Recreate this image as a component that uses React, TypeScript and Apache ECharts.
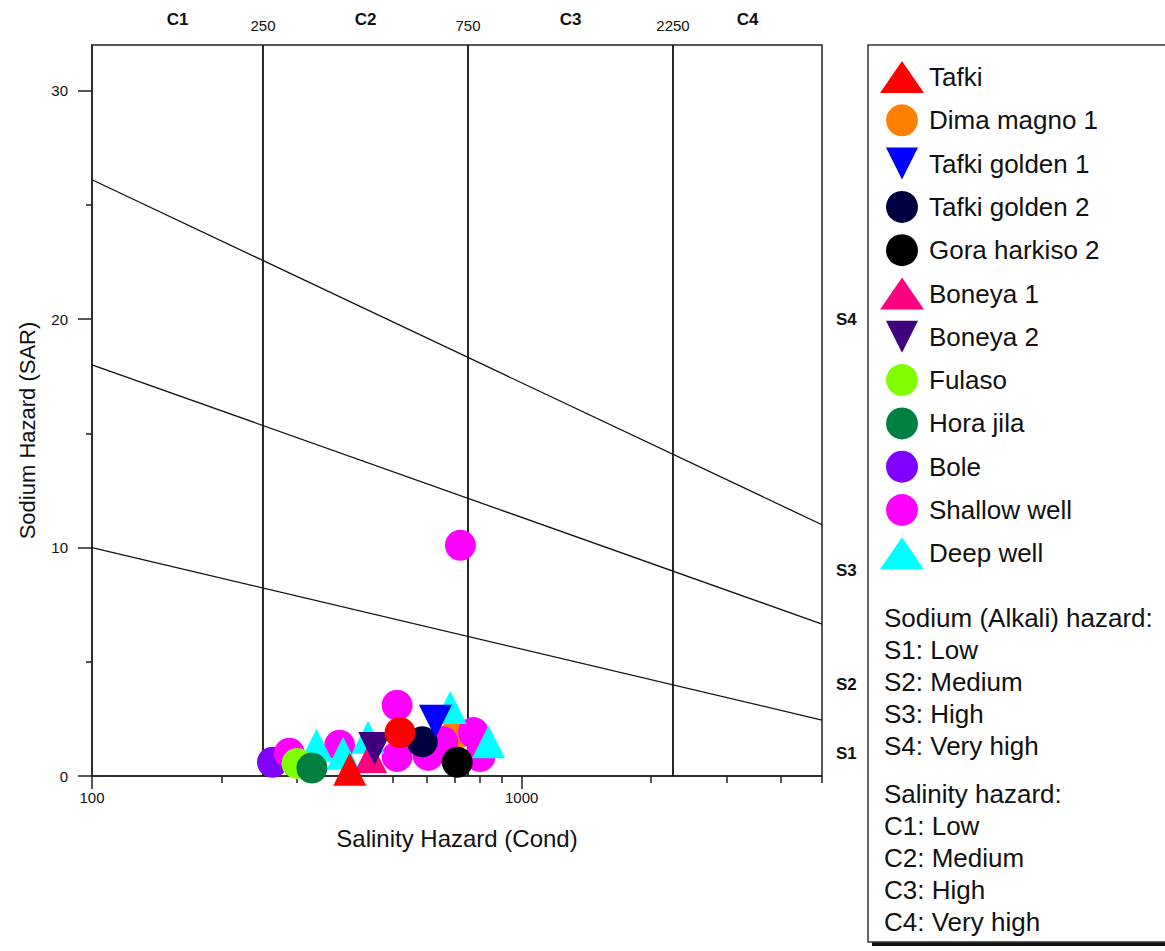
import React, { useEffect, useRef } from 'react';
import * as echarts from 'echarts';

const FONT = 'Arial, "Liberation Sans", Helvetica, sans-serif';

// Axis ranges and ticks
const xMin = 100;
const xMax = 5000;
const yMin = 0;
const yMax = 32;
const yMajorTicks = [0, 10, 20, 30];
const yMinorTicks = [5, 15, 25];
const xMajorTicks = [100, 1000];
const xMinorTicks = [200, 300, 400, 500, 600, 700, 800, 900, 2000, 3000, 4000, 5000];
const salinityBounds = [250, 750, 2250];
const salinityZoneEdges = [100, 250, 750, 2250, 5000];
const salinityClasses = ['C1', 'C2', 'C3', 'C4'];
const sodiumClasses = ['S1', 'S2', 'S3', 'S4'];
const sodiumLabelAt = [1, 4, 9, 20];

// Sodium hazard boundary lines [EC, SAR]
const boundaryS1S2 = [[100, 10], [5000, 2.45]];
const boundaryS2S3 = [[100, 18], [5000, 6.65]];
const boundaryS3S4 = [[100, 26.1], [5000, 11]];

// Samples [EC, SAR]
const tafki = [[398, 0.3]];
const tafkiRound = [[521, 1.9]];
const dimaMagno1 = [[700, 1.8]];
const tafkiGolden1 = [[630, 2.4]];
const tafkiGolden2 = [[587, 1.5]];
const goraHarkiso2 = [[708, 0.6]];
const boneya1 = [[445, 0.85]];
const boneya2 = [[455, 1.2]];
const fulaso = [[300, 0.55]];
const horaJila = [[325, 0.35]];
const bole = [[263, 0.6]];
const shallowWell = [
  [288, 1.0], [377, 1.35], [513, 3.1], [513, 0.85], [606, 0.9],
  [655, 1.5], [772, 1.9], [800, 0.85], [720, 10.1],
];
const deepWell = [[333, 1.35], [384, 1.0], [439, 1.7], [682, 3.0], [837, 1.5]];

const legendNames = [
  'Tafki', 'Dima magno 1', 'Tafki golden 1', 'Tafki golden 2', 'Gora harkiso 2',
  'Boneya 1', 'Boneya 2', 'Fulaso', 'Hora jila', 'Bole', 'Shallow well', 'Deep well',
];

const sodiumNotes = ['Sodium (Alkali) hazard:', 'S1: Low', 'S2: Medium', 'S3: High', 'S4: Very high'];
const salinityNotes = ['Salinity hazard:', 'C1: Low', 'C2: Medium', 'C3: High', 'C4: Very high'];

const INV_TRI = 'path://M0,0L10,0L5,10Z';

function scatter(name: string, data: number[][], symbol: string, color: string, size: number) {
  return {
    type: 'scatter',
    name,
    data,
    symbol,
    symbolSize: size,
    itemStyle: { color, opacity: 1 },
    emphasis: { disabled: true },
  };
}

function lineSeries(data: number[][], width: number) {
  return {
    type: 'line',
    data,
    symbol: 'none',
    silent: true,
    lineStyle: { color: '#111', width },
    z: 1,
  };
}

export default function App() {
  const ref = useRef<HTMLDivElement>(null);

  useEffect(() => {
    if (!ref.current) return;
    const chart = echarts.init(ref.current, undefined, { renderer: 'svg' });

    const cMid = salinityClasses.map((_, i) =>
      Math.sqrt(salinityZoneEdges[i] * salinityZoneEdges[i + 1])
    );

    const logAxisBase = {
      type: 'log',
      logBase: 10,
      min: xMin,
      max: xMax,
      splitLine: { show: false },
      minorTick: { show: false },
    };
    const valAxisBase = {
      type: 'value',
      min: yMin,
      max: yMax,
      splitLine: { show: false },
    };
    const plain = (v: number) => String(Math.round(v));

    const option: any = {
      animation: false,
      backgroundColor: '#fff',
      textStyle: { fontFamily: FONT },
      grid: {
        left: 92,
        top: 45,
        right: 343,
        bottom: 175,
        show: true,
        borderColor: '#222',
        borderWidth: 1.5,
        containLabel: false,
        outerBoundsMode: 'none',
      },
      xAxis: [
        {
          ...logAxisBase,
          position: 'bottom',
          name: 'Salinity Hazard (Cond)',
          nameLocation: 'middle',
          nameGap: 50,
          nameMoveOverlap: false,
          nameTextStyle: { fontSize: 24, color: '#111', fontFamily: FONT },
          axisLine: { show: true, lineStyle: { color: '#222', width: 1.5 } },
          axisTick: { show: true, customValues: xMajorTicks, length: 13, lineStyle: { color: '#222', width: 1.5 } },
          axisLabel: { show: true, customValues: xMajorTicks, fontSize: 15, color: '#111', margin: 14, fontFamily: FONT, formatter: plain },
        },
        {
          ...logAxisBase,
          position: 'bottom',
          axisLine: { show: false },
          axisTick: { show: true, customValues: xMinorTicks, length: 7, lineStyle: { color: '#222', width: 1.5 } },
          axisLabel: { show: false },
        },
        {
          ...logAxisBase,
          position: 'top',
          axisLine: { show: false },
          axisTick: { show: false },
          axisLabel: { show: true, customValues: salinityBounds, fontSize: 15, color: '#111', margin: 12, fontFamily: FONT, formatter: plain },
        },
        {
          ...logAxisBase,
          position: 'top',
          axisLine: { show: false },
          axisTick: { show: false },
          axisLabel: {
            show: true,
            customValues: cMid,
            fontSize: 17,
            fontWeight: 'bold',
            color: '#111',
            margin: 17,
            fontFamily: FONT,
            formatter: (v: number) => {
              let best = 0;
              cMid.forEach((m, i) => {
                if (Math.abs(Math.log(m) - Math.log(v)) < Math.abs(Math.log(cMid[best]) - Math.log(v))) best = i;
              });
              return salinityClasses[best];
            },
          },
        },
      ],
      yAxis: [
        {
          ...valAxisBase,
          position: 'left',
          name: 'Sodium Hazard (SAR)',
          nameLocation: 'middle',
          nameGap: 54,
          nameMoveOverlap: false,
          nameTextStyle: { fontSize: 22, color: '#111', fontFamily: FONT, padding: [0, 40, 0, 0] },
          axisLine: { show: true, lineStyle: { color: '#222', width: 1.5 } },
          axisTick: { show: true, customValues: yMajorTicks, length: 14, lineStyle: { color: '#222', width: 1.5 } },
          axisLabel: { show: true, customValues: yMajorTicks, fontSize: 15, color: '#111', margin: 24, fontFamily: FONT, formatter: plain },
        },
        {
          ...valAxisBase,
          position: 'left',
          axisLine: { show: false },
          axisTick: { show: true, customValues: yMinorTicks, length: 6, lineStyle: { color: '#222', width: 1.5 } },
          axisLabel: { show: false },
        },
        {
          ...valAxisBase,
          position: 'right',
          axisLine: { show: false },
          axisTick: { show: false },
          axisLabel: {
            show: true,
            customValues: sodiumLabelAt,
            fontSize: 17,
            fontWeight: 'bold',
            color: '#111',
            margin: 14,
            fontFamily: FONT,
            formatter: (v: number) => {
              const i = sodiumLabelAt.indexOf(v);
              return i >= 0 ? sodiumClasses[i] : '';
            },
          },
        },
      ],
      legend: {
        orient: 'vertical',
        left: 875,
        top: 56,
        itemWidth: 44,
        itemHeight: 32,
        itemGap: 11.3,
        selectedMode: false,
        symbolKeepAspect: true,
        data: legendNames,
        textStyle: { fontSize: 26, color: '#111', fontFamily: FONT },
        z: 5,
      },
      graphic: [
        {
          type: 'rect',
          z: 0,
          silent: true,
          shape: { x: 872, y: 49, width: 320, height: 897 },
          style: { fill: '#111' },
        },
        {
          type: 'rect',
          z: 0,
          silent: true,
          shape: { x: 868, y: 45, width: 320, height: 897 },
          style: { fill: '#fff', stroke: '#333', lineWidth: 1.5 },
        },
        {
          type: 'text',
          z: 6,
          silent: true,
          left: 884,
          top: 602,
          style: {
            text: sodiumNotes.join('\n'),
            fontSize: 26,
            lineHeight: 32,
            fill: '#111',
            fontFamily: FONT,
          },
        },
        {
          type: 'text',
          z: 6,
          silent: true,
          left: 884,
          top: 778,
          style: {
            text: salinityNotes.join('\n'),
            fontSize: 26,
            lineHeight: 32,
            fill: '#111',
            fontFamily: FONT,
          },
        },
      ],
      series: [
        lineSeries(boundaryS1S2, 1.3),
        lineSeries(boundaryS2S3, 1.3),
        lineSeries(boundaryS3S4, 1.3),
        ...salinityBounds.map((b) => lineSeries([[b, yMin], [b, yMax]], 1.8)),
        scatter('Dima magno 1', dimaMagno1, 'circle', '#ff8000', 31),
        scatter('Bole', bole, 'circle', '#8000ff', 31),
        scatter('Shallow well', shallowWell, 'circle', '#ff00ff', 31),
        scatter('Deep well', deepWell, 'triangle', '#00ffff', 33),
        scatter('Boneya 1', boneya1, 'triangle', '#ff0080', 33),
        scatter('Boneya 2', boneya2, INV_TRI, '#400080', 33),
        scatter('Fulaso', fulaso, 'circle', '#80ff00', 31),
        scatter('Hora jila', horaJila, 'circle', '#008040', 31),
        scatter('Tafki golden 2', tafkiGolden2, 'circle', '#000040', 31),
        scatter('Tafki golden 1', tafkiGolden1, INV_TRI, '#0000ff', 33),
        scatter('Gora harkiso 2', goraHarkiso2, 'circle', '#000000', 31),
        scatter('Tafki', tafki, 'triangle', '#ff0000', 33),
        scatter('Tafki', tafkiRound, 'circle', '#ff0000', 31),
      ],
    };

    chart.setOption(option);
    return () => chart.dispose();
  }, []);

  return (
    <div
      ref={ref}
      style={{ position: 'fixed', left: 0, top: 0, width: 1165, height: 951, background: '#fff' }}
    />
  );
}
